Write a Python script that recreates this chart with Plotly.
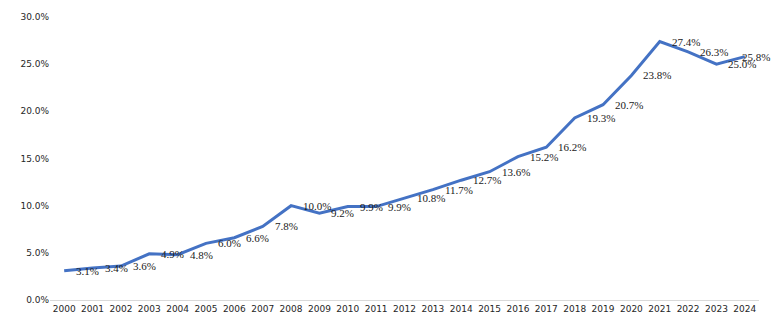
import plotly.graph_objects as go

years = [str(y) for y in range(2000, 2025)]
values = [3.1, 3.4, 3.6, 4.9, 4.8, 6.0, 6.6, 7.8, 10.0, 9.2, 9.9, 9.9, 10.8, 11.7,
          12.7, 13.6, 15.2, 16.2, 19.3, 20.7, 23.8, 27.4, 26.3, 25.0, 25.8]
labels = [f"{v:.1f}%" for v in values]
yticks = [0, 5, 10, 15, 20, 25, 30]
yticktext = [f"{t:.1f}%" for t in yticks]

fig = go.Figure(go.Scatter(
    x=years, y=values, mode="lines",
    line=dict(color="#4472C4", width=3),
    hoverinfo="skip",
))

for i, (v, lab) in enumerate(zip(values, labels)):
    last = i == len(values) - 1
    fig.add_annotation(
        x=i, y=v, xref="x", yref="y", text=lab, showarrow=False,
        xanchor="left", yanchor="middle",
        xshift=-5 if last else 10,
        font=dict(family="Liberation Serif", size=11, color="#1a1a1a"),
    )

fig.update_layout(
    width=775, height=333,
    margin=dict(l=50, r=16, t=15, b=33),
    paper_bgcolor="white", plot_bgcolor="white",
    showlegend=False,
    xaxis=dict(type="category", range=[-0.5, 24.5], autorange=False, showgrid=False,
               showline=True, linecolor="#D9D9D9",
               linewidth=1, ticks="", tickfont=dict(family="DejaVu Sans", size=9, color="#262626")),
    yaxis=dict(range=[0, 30], tickvals=yticks, ticktext=yticktext, showgrid=False,
               zeroline=False, showline=False, ticks="",
               tickfont=dict(family="DejaVu Sans", size=9, color="#262626")),
)

fig.write_html("out.html")
